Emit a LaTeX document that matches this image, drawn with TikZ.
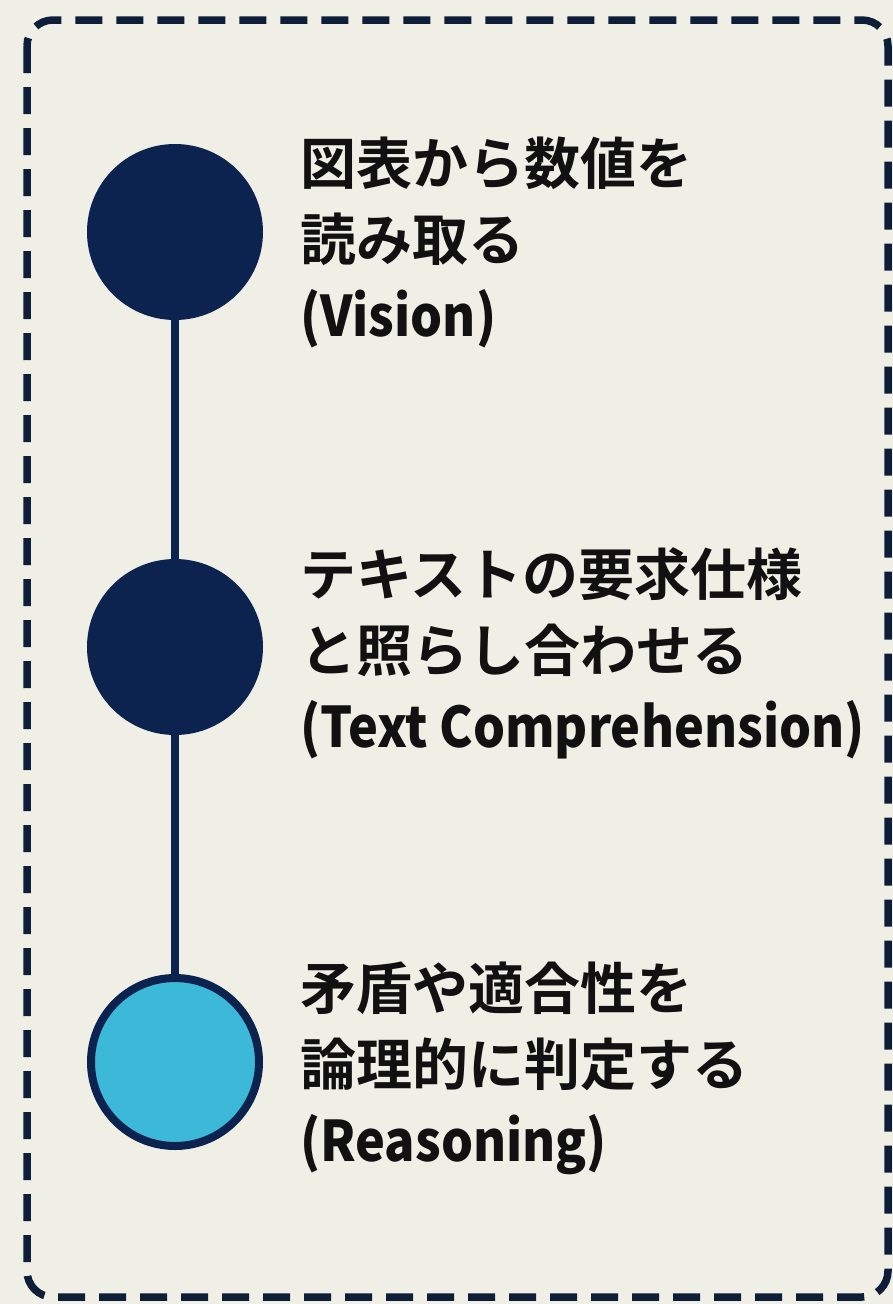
\documentclass[tikz,border=0pt]{standalone}
\usepackage{fontspec}
\setmainfont{Noto Sans CJK JP}[BoldFont={Noto Sans CJK JP Bold}]
\newfontfamily\latn{Noto Sans CJK JP Bold}[FakeStretch=0.9]
\definecolor{bg}{HTML}{F0EFE6}
\definecolor{navy}{HTML}{0C2350}
\definecolor{edge}{HTML}{0F1E38}
\definecolor{sky}{HTML}{3CB9D9}
\definecolor{ink}{HTML}{111111}
\begin{document}
\begin{tikzpicture}[x=1pt,y=-1pt,
  dot/.style={circle,draw=navy,line width=8pt,minimum size=168pt,inner sep=0pt},
  label/.style={anchor=west,align=left,text=ink,inner sep=0pt,
    font=\bfseries\fontsize{56}{76}\selectfont},
  link/.style={draw=navy,line width=8pt}]
\fill[bg] (0,0) rectangle (893,1304);
\useasboundingbox (0,0) rectangle (893,1304);
\draw[edge,line width=7.5pt,dash pattern=on 27pt off 14pt,rounded corners=26pt]
  (27,20) rectangle (888,1297);
\node[dot,fill=navy] (c1) at (175,232) {};
\node[dot,fill=navy] (c2) at (175,647) {};
\node[dot,fill=sky] (c3) at (175,1062) {};
\draw[link] (c1) -- (c2);
\draw[link] (c2) -- (c3);
\node[label] (t1) at (300,242) {図表から数値を\\読み取る\\{\latn (Vision)}};
\node[label] (t2) at (300,653) {テキストの要求仕様\\と照らし合わせる\\{\latn (Text Comprehension)}};
\node[label] (t3) at (300,1068) {矛盾や適合性を\\論理的に判定する\\{\latn (Reasoning)}};
\end{tikzpicture}
\end{document}
